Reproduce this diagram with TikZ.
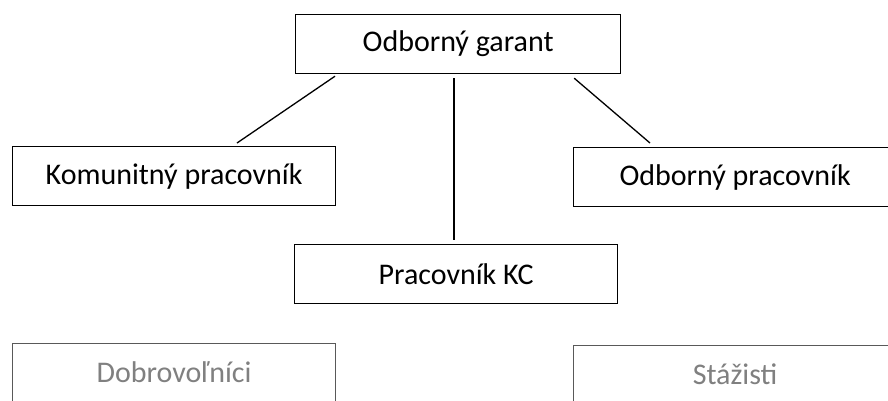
\documentclass[tikz,border=0pt]{standalone}
\usepackage{fontspec}
\setmainfont{Carlito}
\begin{document}
\begin{tikzpicture}[x=1pt,y=-1pt,
	box/.style={draw, line width=1.2pt, anchor=north west, minimum width=323pt, minimum height=59pt, inner sep=0pt, font=\fontsize{30}{36}\selectfont},
	greybox/.style={box, draw=black!65, minimum height=90pt},
	greytext/.style={anchor=base, text=black!50, font=\fontsize{30}{36}\selectfont}]
	\useasboundingbox (0,0) rectangle (888,400);
	\clip (0,0) rectangle (888,400);
	% top level
	\node [box, minimum width=325pt] (garant) at (295,14) {Odborný garant};
	% second level
	\node [box] (komunit) at (12,146) {Komunitný pracovník};
	\node [box] (odborny) at (573,147) {Odborný pracovník};
	\node [box] (kc) at (294,244) {Pracovník KC};
	% bottom, cut off by the page edge
	\node [greybox] (dobro) at (12,343) {};
	\node [greytext] (dobrotext) at ([yshift=-39pt]dobro.north) {Dobrovoľníci};
	\node [greybox] (staz) at (573,345) {};
	\node [greytext] (staztext) at ([yshift=-39pt]staz.north) {Stážisti};
	% connectors
	\draw [line width=1.3pt] ([xshift=40pt,yshift=-2pt]garant.south west) -- ([xshift=225pt,yshift=3pt]komunit.north west);
	\draw [line width=1.3pt] ([xshift=-4pt,yshift=-4pt]garant.south) -- ([xshift=-2pt,yshift=4pt]kc.north);
	\draw [line width=1.3pt] ([xshift=-47pt,yshift=-4pt]garant.south east) -- ([xshift=77pt,yshift=4pt]odborny.north west);
\end{tikzpicture}
\end{document}
